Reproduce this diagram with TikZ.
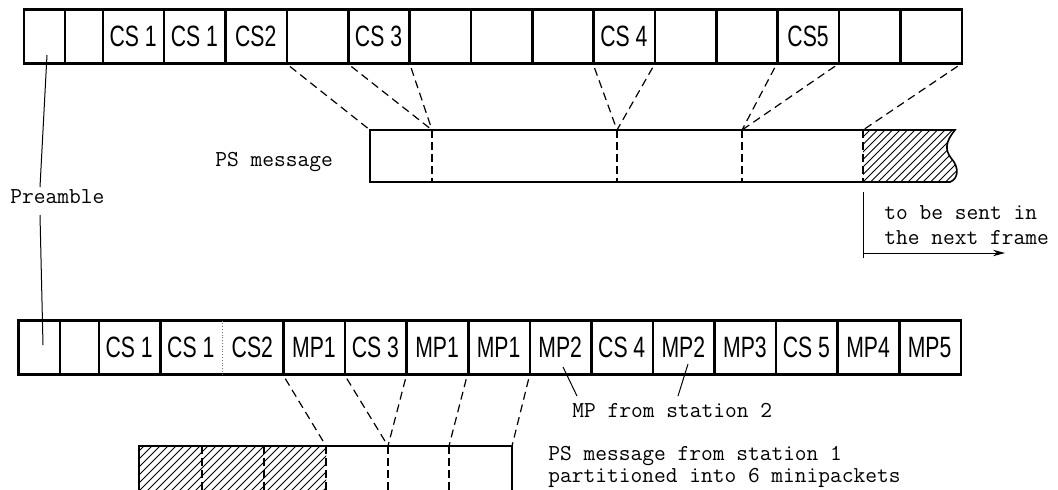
\documentclass[tikz,border=0pt]{standalone}
\usepackage{fontspec}
\newfontfamily\dinfont[FakeStretch=0.72]{Liberation Sans}
\usetikzlibrary{arrows.meta}
\begin{document}
\begin{tikzpicture}[x=0.5pt,y=-0.5pt,
  cell/.style={rectangle, inner sep=0pt, minimum height=26.5pt, anchor=west,
    font=\dinfont\fontsize{14.7}{16}\selectfont},
  row/.style={line width=1.3pt, line cap=rect},
  weak/.style={line width=0.4pt, densely dotted, black!55},
  box/.style={line width=0.8pt},
  thinline/.style={line width=0.5pt},
  fan/.style={line width=0.6pt, dash pattern=on 4pt off 2.5pt, shorten <=2.5pt},
  divider/.style={line width=0.6pt, dash pattern=on 4pt off 2pt},
  hatch/.style={line width=0.4pt},
  mono/.style={inner sep=0pt, font=\ttfamily\fontsize{11.4}{12.5}\selectfont}]
\useasboundingbox (0,0) rectangle (1058,489);

% ---------------- upper frame ----------------
\node[cell, minimum width=20pt] (tp1) at (24,36.5) {};
\node[cell, minimum width=19pt] (tp2) at (64,36.5) {};
\foreach \l [count=\i] in {{CS 1},{CS 1},{CS2},{},{CS 3},{},{},{},{CS 4},{},{},{CS5},{},{}}
  \node[cell, minimum width=30.68pt] (t\i) at ({102+(\i-1)*61.36},36.5) {\l};
\draw[row] (tp1.north west) rectangle (t14.south east);
\draw[row] (tp1.north east) -- (tp1.south east);
\draw[row] (tp2.north east) -- (tp2.south east);
\foreach \i in {1,...,13}
  \draw[row] (t\i.north east) -- (t\i.south east);

% ---------------- lower frame ----------------
\node[cell, minimum width=20.2pt] (bp1) at (18.6,347.5) {};
\node[cell, minimum width=19.5pt] (bp2) at (59,347.5) {};
\foreach \l [count=\i] in {{CS 1},{CS 1},{CS2},{MP1},{CS 3},{MP1},{MP1},{MP2},{CS 4},{MP2},{MP3},{CS 5},{MP4},{MP5}}
  \node[cell, minimum width=30.79pt] (b\i) at ({98+(\i-1)*61.57},347.5) {\l};
\draw[row] (bp1.north west) rectangle (b14.south east);
\draw[row] (bp1.north east) -- (bp1.south east);
\draw[row] (bp2.north east) -- (bp2.south east);
\draw[row] (b1.north east) -- (b1.south east);
\draw[weak] (b2.north east) -- (b2.south east);
\foreach \i in {3,...,13}
  \draw[row] (b\i.north east) -- (b\i.south east);

% ---------------- preamble label ----------------
\node[mono, anchor=base west] (pre) at (10,203) {Preamble};
\coordinate (pa) at (47,55);
\coordinate (pc) at (40,187);
\coordinate (pd) at (40,215);
\coordinate (pb) at (43,345);
\draw[thinline] (pa) -- (pc);
\draw[thinline] (pd) -- (pb);

% ---------------- PS message of the upper frame ----------------
\coordinate (p0) at (370,130);
\coordinate (p1) at (432,130);
\coordinate (p2) at (617,130);
\coordinate (p3) at (742,130);
\coordinate (p4) at (863,130);
\node[mono, anchor=base west] (psm) at (215,166) {PS message};

\begin{scope}
  \clip (p4) -- (955,130) .. controls (945,142) and (945,150) .. (951,158)
        .. controls (960,168) and (958,179) .. (950,182) -- (863,182) -- cycle;
  \foreach \k in {0,...,22}
    \draw[hatch] ({863+\k*7.5-60},182) -- ++(60,-60);
\end{scope}
\draw[box] (p0) -- (955,130) .. controls (945,142) and (945,150) .. (951,158)
      .. controls (960,168) and (958,179) .. (950,182) -- (370,182) -- cycle;
\foreach \p in {p1,p2,p3,p4}
  \draw[divider] (\p) -- ++(0,52);

\draw[fan] (t4.south west) -- (p0);
\draw[fan] (t5.south west) -- (p1);
\draw[fan] (t5.south east) -- (p1);
\draw[fan] (t9.south west) -- (p2);
\draw[fan] (t9.south east) -- (p2);
\draw[fan] (t12.south west) -- (p3);
\draw[fan] (t12.south east) -- (p3);
\draw[fan] (t14.south east) -- (p4);

% remainder carried over to the next frame
\coordinate (s0) at (863,192);
\coordinate (s1) at (863,258);
\coordinate (s2) at (863,253);
\coordinate (s3) at (1005,253);
\draw[thinline] (s0) -- (s1);
\draw[thinline, -{Stealth[length=6pt, width=3.2pt]}] (s2) -- (s3);
\node[mono, anchor=north west, align=left] (nxt) at (884,205) {to be sent in\\the next frame};

% ---------------- minipackets of the lower frame ----------------
\coordinate (q0) at (139,446);
\coordinate (q1) at (202,446);
\coordinate (q2) at (264,446);
\coordinate (q3) at (326,446);
\coordinate (q4) at (388,446);
\coordinate (q5) at (449,446);
\coordinate (q6) at (512,446);

\begin{scope}
  \clip (q0) rectangle (326,495);
  \foreach \k in {0,...,32}
    \draw[hatch] ({139+\k*8-60},495) -- ++(60,-60);
\end{scope}
\draw[box] (139,495) -- (q0) -- (q6) -- (512,495);
\foreach \p in {q1,q2,q3,q4,q5}
  \draw[divider] (\p) -- ++(0,50);

\draw[fan] (b4.south west) -- (q3);
\draw[fan] (b5.south west) -- (q4);
\draw[fan] (b5.south east) -- (q4);
\draw[fan] (b7.south west) -- (q5);
\draw[fan] (b7.south east) -- (q6);

% labels of the lower frame
\node[mono, anchor=base west] (mpl) at (572,417) {MP from station 2};
\coordinate (m1) at (563,367);
\coordinate (m1e) at (577,396);
\coordinate (m2) at (688,364);
\coordinate (m2e) at (678,396);
\draw[thinline] (m1) -- (m1e);
\draw[thinline] (m2) -- (m2e);
\node[mono, anchor=north west, align=left, font=\ttfamily\fontsize{11.4}{11}\selectfont]
  (psl) at (548,446) {PS message from station 1\\partitioned into 6 minipackets};
\end{tikzpicture}
\end{document}
